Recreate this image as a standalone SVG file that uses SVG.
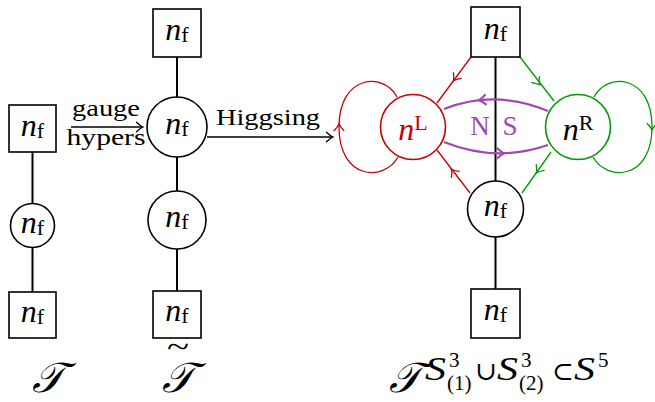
<svg xmlns="http://www.w3.org/2000/svg" width="655" height="402" viewBox="0 0 655 402">
  <style>
    .box { fill: #fff; stroke: #000; stroke-width: 1.6; }
    .node { fill: #fff; stroke: #000; stroke-width: 1.6; }
    .edge { stroke: #000; stroke-width: 2; fill: none; }
    .arr { stroke: #000; stroke-width: 1.3; fill: none; }
    .red { stroke: #c80000; stroke-width: 1.3; fill: none; }
    .green { stroke: #009900; stroke-width: 1.3; fill: none; }
    .purple { stroke: #9c4ca8; stroke-width: 2.2; fill: none; }
    .m { font-family: "Liberation Serif", "DejaVu Serif", serif; font-size: 32px; text-anchor: middle; }
    .m .v { font-style: italic; }
    .m .s { font-size: 22px; font-style: normal; }
    .lbl { font-family: "Liberation Serif", "DejaVu Serif", serif; font-size: 24px; text-anchor: middle; }
    .big { font-family: "Liberation Serif", "DejaVu Serif", serif; font-style: italic; font-size: 42px; }
    .sv { font-family: "Liberation Serif", "DejaVu Serif", serif; font-style: italic; font-size: 33px; }
    .sup { font-family: "Liberation Serif", "DejaVu Serif", serif; font-size: 21px; }
    .sym { font-family: "DejaVu Serif", serif; font-size: 26px; }
  </style>
  <defs>
    <path id="tip" d="M-5.5,-4.8 Q-1.8,-1.2 1,0 Q-1.8,1.2 -5.5,4.8" fill="none" stroke-linecap="round"/>
  </defs>

  <!-- connectors -->
  <g id="connectors">
    <!-- left quiver -->
    <line class="edge" x1="32.5" y1="152" x2="32.5" y2="204"/>
    <line class="edge" x1="32.5" y1="247" x2="32.5" y2="292"/>
    <!-- middle quiver -->
    <line class="edge" x1="177" y1="57" x2="177" y2="97"/>
    <line class="edge" x1="177" y1="157" x2="177" y2="191"/>
    <line class="edge" x1="177" y1="249" x2="177" y2="291"/>
    <!-- right quiver -->
    <line class="edge" x1="495.5" y1="57" x2="495.5" y2="181"/>
    <line class="edge" x1="495.5" y1="237" x2="495.5" y2="289"/>

    <!-- transition arrows -->
    <line class="arr" x1="71" y1="127" x2="142" y2="127"/>
    <use href="#tip" class="arr" transform="translate(142,127)"/>
    <line class="arr" x1="207" y1="137" x2="332" y2="137"/>
    <use href="#tip" class="arr" transform="translate(332,137)"/>

    <!-- red edges -->
    <line class="red" x1="471" y1="57" x2="437" y2="103"/>
    <use href="#tip" class="red" transform="translate(454,80) rotate(126.5)"/>
    <line class="red" x1="470" y1="193" x2="437" y2="150"/>
    <use href="#tip" class="red" transform="translate(452,170) rotate(-127.5)"/>
    <path class="red" d="M397,97 C384,72 339,74 339,127 C339,180 384,182 398,157"/>
    <use href="#tip" class="red" transform="translate(339,125) rotate(-90)"/>

    <!-- green edges -->
    <line class="green" x1="520" y1="57" x2="554" y2="101"/>
    <use href="#tip" class="green" transform="translate(539,84) rotate(52.3)"/>
    <line class="green" x1="551" y1="152" x2="522" y2="193"/>
    <use href="#tip" class="green" transform="translate(537,172) rotate(125.3)"/>
    <path class="green" d="M594,97 C607,72 652,74 652,127 C652,180 607,182 593,157"/>
    <use href="#tip" class="green" transform="translate(652,129) rotate(90)"/>

    <!-- purple edges -->
    <path class="purple" d="M444,109 Q496,89 548,111"/>
    <use href="#tip" class="purple" stroke-width="1.6" transform="translate(480,100.2) rotate(174)"/>
    <path class="purple" d="M444,142 Q496,163 548,145"/>
    <use href="#tip" class="purple" stroke-width="1.6" transform="translate(503,153.2) rotate(-1)"/>
  </g>

  <text class="lbl" x="106" y="116" textLength="68" lengthAdjust="spacingAndGlyphs">gauge</text>
  <text class="lbl" x="106" y="145" textLength="79" lengthAdjust="spacingAndGlyphs">hypers</text>
  <text class="lbl" x="268" y="125" textLength="104" lengthAdjust="spacingAndGlyphs">Higgsing</text>
  <text x="480" y="135" font-family="Liberation Serif, serif" font-size="27" fill="#9c4ca8" text-anchor="middle">N</text>
  <text x="510" y="135" font-family="Liberation Serif, serif" font-size="27" fill="#9c4ca8" text-anchor="middle">S</text>

  <!-- left quiver -->
  <g id="T-flavor-top">
    <rect class="box" x="9" y="105" width="47" height="47"/>
    <text class="m" x="32.5" y="136"><tspan class="v">n</tspan><tspan class="s" dy="2">f</tspan></text>
  </g>
  <g id="T-gauge">
    <circle class="node" cx="32.5" cy="225.5" r="22"/>
    <text class="m" x="32.5" y="233"><tspan class="v">n</tspan><tspan class="s" dy="2">f</tspan></text>
  </g>
  <g id="T-flavor-bottom">
    <rect class="box" x="9" y="292" width="47" height="46"/>
    <text class="m" x="32.5" y="322"><tspan class="v">n</tspan><tspan class="s" dy="2">f</tspan></text>
  </g>

  <!-- middle quiver -->
  <g id="Tt-flavor-top">
    <rect class="box" x="153" y="9" width="48" height="48"/>
    <text class="m" x="177" y="40"><tspan class="v">n</tspan><tspan class="s" dy="2">f</tspan></text>
  </g>
  <g id="Tt-gauge-1">
    <circle class="node" cx="177" cy="127" r="30"/>
    <text class="m" x="177" y="134"><tspan class="v">n</tspan><tspan class="s" dy="2">f</tspan></text>
  </g>
  <g id="Tt-gauge-2">
    <circle class="node" cx="177" cy="220" r="29"/>
    <text class="m" x="177" y="227"><tspan class="v">n</tspan><tspan class="s" dy="2">f</tspan></text>
  </g>
  <g id="Tt-flavor-bottom">
    <rect class="box" x="153" y="291" width="48" height="47"/>
    <text class="m" x="177" y="321"><tspan class="v">n</tspan><tspan class="s" dy="2">f</tspan></text>
  </g>

  <!-- right quiver -->
  <g id="H-flavor-top">
    <rect class="box" x="471" y="7" width="49" height="50"/>
    <text class="m" x="495.5" y="39"><tspan class="v">n</tspan><tspan class="s" dy="2">f</tspan></text>
  </g>
  <g id="H-left">
    <circle cx="413" cy="127" r="32.5" fill="#fff" stroke="#c80000" stroke-width="1.6"/>
    <text class="m" x="413" y="140" fill="#c80000"><tspan class="v">n</tspan><tspan class="s" dy="-10">L</tspan></text>
  </g>
  <g id="H-right">
    <circle cx="578" cy="127" r="32.5" fill="#fff" stroke="#009900" stroke-width="1.6"/>
    <text class="m" x="578" y="140"><tspan class="v">n</tspan><tspan class="s" dy="-10">R</tspan></text>
  </g>
  <g id="H-gauge">
    <circle class="node" cx="495.5" cy="209" r="28"/>
    <text class="m" x="495.5" y="216"><tspan class="v">n</tspan><tspan class="s" dy="2">f</tspan></text>
  </g>
  <g id="H-flavor-bottom">
    <rect class="box" x="471" y="289" width="49" height="49"/>
    <text class="m" x="495.5" y="320"><tspan class="v">n</tspan><tspan class="s" dy="2">f</tspan></text>
  </g>

  <!-- theory labels -->
  <text class="big" x="48" y="392" text-anchor="middle">𝒯</text>
  <text class="big" x="178" y="392" text-anchor="middle">𝒯</text>
  <text x="178" y="357" font-family="Liberation Serif, serif" font-size="30" text-anchor="middle" textLength="22" lengthAdjust="spacingAndGlyphs">~</text>
  <text class="big" x="389" y="392">𝒯</text>
  <text class="sv" x="425" y="380" textLength="21" lengthAdjust="spacingAndGlyphs">S</text>
  <text class="sup" x="449" y="367">3</text>
  <text class="sup" x="447" y="390">(1)</text>
  <text class="sym" x="475" y="380">∪</text>
  <text class="sv" x="497" y="380" textLength="21" lengthAdjust="spacingAndGlyphs">S</text>
  <text class="sup" x="521" y="367">3</text>
  <text class="sup" x="519" y="390">(2)</text>
  <text class="sym" x="552" y="380">⊂</text>
  <text class="sv" x="574" y="380" textLength="21" lengthAdjust="spacingAndGlyphs">S</text>
  <text class="sup" x="598" y="367">5</text>
</svg>
